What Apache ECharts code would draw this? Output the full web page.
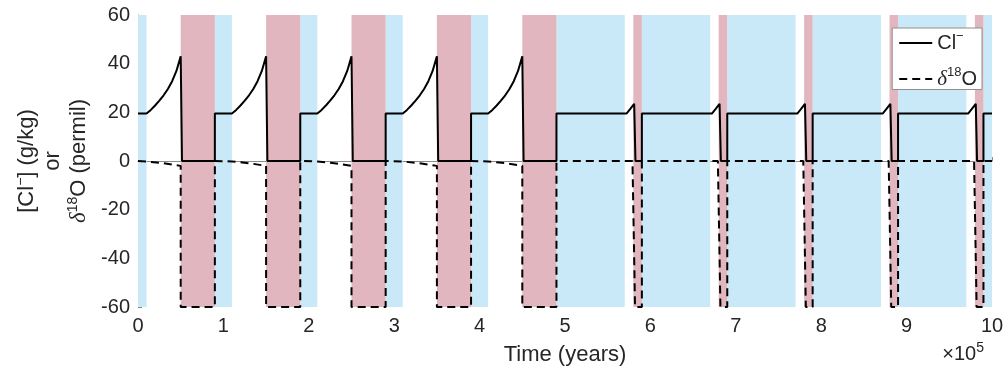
<!DOCTYPE html>
<html><head><meta charset="utf-8">
<script src="https://cdn.jsdelivr.net/npm/echarts@6/dist/echarts.min.js"></script>
<style>html,body{margin:0;padding:0;background:#fff}#c{width:1007px;height:372px}</style>
</head><body><div id="c"></div>
<script>
// time in units of 1e5 years
const xTicks = [0, 1, 2, 3, 4, 5, 6, 7, 8, 9, 10];
const yTicks = [-60, -40, -20, 0, 20, 40, 60];

const blueBands = [[0, 0.1], [0.9, 1.1], [1.9, 2.1], [2.9, 3.1], [3.9, 4.1],
  [4.9, 5.7], [5.9, 6.7], [6.9, 7.7], [7.9, 8.7], [8.9, 9.7], [9.9, 10]];
const pinkBands = [[0.5, 0.9], [1.5, 1.9], [2.5, 2.9], [3.5, 3.9], [4.5, 4.9],
  [5.8, 5.9], [6.8, 6.9], [7.8, 7.9], [8.8, 8.9], [9.8, 9.9]];

const clData = [
  [0, 19.5], [0.1, 19.5], [0.15, 21], [0.2, 22.8], [0.25, 24.8], [0.3, 27], [0.35, 29.6], [0.4, 32.8], [0.45, 37], [0.5, 43], [0.515, 0], [0.9, 0], [0.9, 19.5],
  [1.1, 19.5], [1.15, 21], [1.2, 22.8], [1.25, 24.8], [1.3, 27], [1.35, 29.6], [1.4, 32.8], [1.45, 37], [1.5, 43], [1.515, 0], [1.9, 0], [1.9, 19.5],
  [2.1, 19.5], [2.15, 21], [2.2, 22.8], [2.25, 24.8], [2.3, 27], [2.35, 29.6], [2.4, 32.8], [2.45, 37], [2.5, 43], [2.515, 0], [2.9, 0], [2.9, 19.5],
  [3.1, 19.5], [3.15, 21], [3.2, 22.8], [3.25, 24.8], [3.3, 27], [3.35, 29.6], [3.4, 32.8], [3.45, 37], [3.5, 43], [3.515, 0], [3.9, 0], [3.9, 19.5],
  [4.1, 19.5], [4.15, 21], [4.2, 22.8], [4.25, 24.8], [4.3, 27], [4.35, 29.6], [4.4, 32.8], [4.45, 37], [4.5, 43], [4.515, 0], [4.9, 0], [4.9, 19.5],
  [5.72, 19.5], [5.76, 21.2], [5.81, 23.5], [5.825, 0], [5.9, 0], [5.9, 19.5],
  [6.72, 19.5], [6.76, 21.2], [6.81, 23.5], [6.825, 0], [6.9, 0], [6.9, 19.5],
  [7.72, 19.5], [7.76, 21.2], [7.81, 23.5], [7.825, 0], [7.9, 0], [7.9, 19.5],
  [8.72, 19.5], [8.76, 21.2], [8.81, 23.5], [8.825, 0], [8.9, 0], [8.9, 19.5],
  [9.72, 19.5], [9.76, 21.2], [9.81, 23.5], [9.825, 0], [9.9, 0], [9.9, 19.5], [10, 19.5]
];

const d18OData = [
  [0, 0], [0.1, -0.2], [0.3, -0.9], [0.5, -2], [0.5, -60], [0.9, -60], [0.9, 0],
  [1.1, -0.2], [1.3, -0.9], [1.5, -2], [1.5, -60], [1.9, -60], [1.9, 0],
  [2.1, -0.2], [2.3, -0.9], [2.5, -2], [2.5, -60], [2.9, -60], [2.9, 0],
  [3.1, -0.2], [3.3, -0.9], [3.5, -2], [3.5, -60], [3.9, -60], [3.9, 0],
  [4.1, -0.2], [4.3, -0.9], [4.5, -2], [4.5, -60], [4.9, -60], [4.9, 0],
  [5.79, 0], [5.82, -60], [5.9, -60], [5.9, 0],
  [6.79, 0], [6.82, -60], [6.9, -60], [6.9, 0],
  [7.79, 0], [7.82, -60], [7.9, -60], [7.9, 0],
  [8.79, 0], [8.82, -60], [8.9, -60], [8.9, 0],
  [9.79, 0], [9.82, -60], [9.9, -60], [9.9, 0], [10, 0]
];

const FONT = "'Liberation Sans', Arial, Helvetica, sans-serif";
const SERIF = "'Liberation Serif', serif";
const TXT = '#262626';
const BLUE = '#C9E9F8';
const PINK = '#E2B6BF';

const chart = echarts.init(document.getElementById('c'), null, {renderer: 'canvas'});
const bandArea = (bands, color) => bands.map(b => [
  {xAxis: b[0], itemStyle: {color: color}}, {xAxis: b[1]}
]);

chart.setOption({
  animation: false,
  backgroundColor: '#fff',
  textStyle: {fontFamily: FONT},
  grid: {left: 138, right: 15, top: 15, bottom: 65},
  xAxis: {
    type: 'value', min: xTicks[0], max: xTicks[xTicks.length - 1], interval: 1,
    name: 'Time (years)', nameLocation: 'middle', nameGap: 37,
    nameTextStyle: {fontSize: 22, color: TXT, fontFamily: FONT},
    axisLine: {lineStyle: {color: '#8a8a8a', width: 1}},
    axisTick: {inside: true, length: 4, lineStyle: {color: '#8a8a8a'}},
    axisLabel: {fontSize: 20, color: TXT, margin: 9, fontFamily: FONT},
    splitLine: {show: false}
  },
  yAxis: {
    type: 'value', min: yTicks[0], max: yTicks[yTicks.length - 1], interval: 20,
    name: '{a|[Cl}{s|−}{a|] (g/kg)}\n{a|or}\n{i|δ}{s|18}{a|O (permil)}',
    nameLocation: 'middle', nameGap: 44, nameRotate: 90,
    nameTextStyle: {
      fontSize: 22, color: TXT, fontFamily: FONT,
      rich: {
        a: {fontSize: 22, lineHeight: 26, color: TXT, fontFamily: FONT},
        s: {fontSize: 14, lineHeight: 18, color: TXT, fontFamily: FONT, verticalAlign: 'top'},
        i: {fontSize: 23, lineHeight: 26, color: TXT, fontFamily: SERIF, fontStyle: 'italic'}
      }
    },
    axisLine: {show: true, lineStyle: {color: '#8a8a8a', width: 1}},
    axisTick: {show: true, inside: true, length: 4, lineStyle: {color: '#8a8a8a'}},
    axisLabel: {fontSize: 20, color: TXT, margin: 8, fontFamily: FONT},
    splitLine: {show: false}
  },
  legend: {
    right: 25, top: 28, orient: 'vertical',
    backgroundColor: '#fff', borderColor: '#8f8f8f', borderWidth: 1,
    padding: [2, 5, 0, 6], itemGap: 13, itemWidth: 33, itemHeight: 14,
    data: ['Cl', 'd18O'],
    itemStyle: {color: 'rgba(0,0,0,0)', borderColor: 'rgba(0,0,0,0)', borderWidth: 0, opacity: 0},
    formatter: n => n === 'Cl' ? '{a|Cl}{s|−}' : '{i|δ}{s|18}{a|O}',
    textStyle: {
      fontSize: 20, color: TXT, fontFamily: FONT,
      rich: {
        a: {fontSize: 20, lineHeight: 26, color: TXT, fontFamily: FONT},
        s: {fontSize: 13, lineHeight: 17, color: TXT, fontFamily: FONT, verticalAlign: 'top'},
        i: {fontSize: 21, lineHeight: 26, color: TXT, fontFamily: SERIF, fontStyle: 'italic'}
      }
    }
  },
  graphic: [{
    type: 'text', right: 23, top: 341, silent: true,
    style: {
      text: '{a|×10}{s|5}',
      rich: {
        a: {fontSize: 20, lineHeight: 26, fill: TXT, fontFamily: FONT},
        s: {fontSize: 14, lineHeight: 16, fill: TXT, fontFamily: FONT, verticalAlign: 'top'}
      }
    }
  }],
  series: [
    {
      name: 'bands', type: 'line', data: [], z: 1, silent: true,
      markArea: {silent: true, data: bandArea(blueBands, BLUE).concat(bandArea(pinkBands, PINK))}
    },
    {
      name: 'Cl', type: 'line', data: clData, z: 3, symbol: 'none', showSymbol: false,
      lineStyle: {color: '#000', width: 2, type: 'solid'}, itemStyle: {color: '#000'}
    },
    {
      name: 'd18O', type: 'line', data: d18OData, z: 3, symbol: 'none', showSymbol: false,
      lineStyle: {color: '#000', width: 2, type: [8, 5]}, itemStyle: {color: '#000'}
    }
  ]
});
</script>
</body></html>
